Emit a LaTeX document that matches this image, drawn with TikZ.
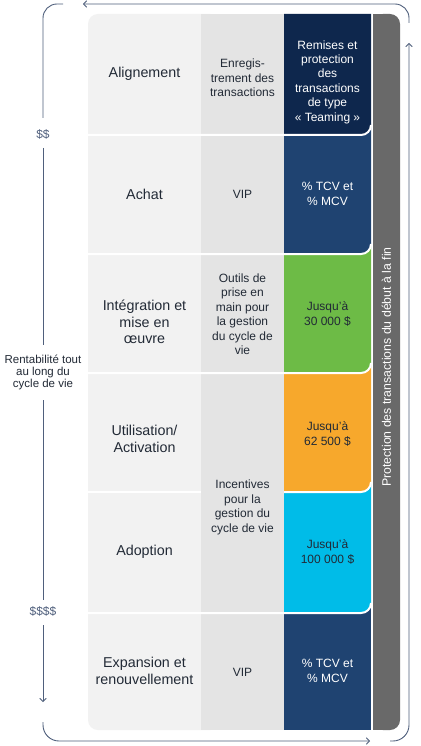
\documentclass[tikz,border=0pt]{standalone}
\usepackage{fontspec}
\setmainfont{Liberation Sans}
\usetikzlibrary{arrows.meta}
\definecolor{navyA}{HTML}{0E274D}
\definecolor{navyB}{HTML}{1F4371}
\definecolor{greenC}{HTML}{6DBB46}
\definecolor{orangeC}{HTML}{F7A82C}
\definecolor{cyanC}{HTML}{00BCE8}
\definecolor{barC}{HTML}{696969}
\definecolor{colA}{HTML}{F2F2F2}
\definecolor{colB}{HTML}{E4E4E4}
\definecolor{lineC}{HTML}{4F5F7C}
\definecolor{txtC}{HTML}{222A36}
\begin{document}
\begin{tikzpicture}[x=1pt,y=-1pt,
  conn/.style={draw=lineC, line width=0.9pt},
  arrowend/.style={-{Straight Barb[length=3pt,width=6.5pt]}},
  c1/.style={font=\fontsize{14.3}{16.5}\selectfont, text=txtC, align=center},
  c2/.style={font=\fontsize{12}{14.5}\selectfont, text=txtC, align=center},
  c3/.style={font=\fontsize{12}{14.4}\selectfont, align=center},
  side/.style={font=\fontsize{11.5}{12.2}\selectfont, text=txtC, align=center},
  money/.style={font=\fontsize{12}{14}\selectfont, text=lineC},
  sep/.style={draw=white, line width=2pt}]
\useasboundingbox (0,0) rectangle (420,746);
\fill[white] (0,0) rectangle (420,746);
% columns
\fill[colA, rounded corners=10pt] (88,14) rectangle (220,730);
\fill[colB] (201,14) rectangle (284,730);
% coloured cells, bottom first
\fill[navyB] (284,603) rectangle (371,730);
\fill[cyanC] (284,482) -- (371,482) -- (371,603) arc[start angle=0,end angle=-90,radius=10pt] -- (284,613) -- cycle;
\fill[orangeC] (284,363) -- (371,363) -- (371,482) arc[start angle=0,end angle=-90,radius=10pt] -- (284,492) -- cycle;
\fill[greenC] (284,244) -- (371,244) -- (371,363) arc[start angle=0,end angle=-90,radius=10pt] -- (284,373) -- cycle;
\fill[navyB] (284,125) -- (371,125) -- (371,244) arc[start angle=0,end angle=-90,radius=10pt] -- (284,254) -- cycle;
\fill[navyA] (284,14) -- (371,14) -- (371,125) arc[start angle=0,end angle=-90,radius=10pt] -- (284,135) -- cycle;
% separators
\draw[sep] (88,135) -- (361,135) arc[start angle=-90,end angle=0,radius=10pt];
\draw[sep] (88,254) -- (361,254) arc[start angle=-90,end angle=0,radius=10pt];
\draw[sep] (88,373) -- (361,373) arc[start angle=-90,end angle=0,radius=10pt];
\draw[sep] (88,492) -- (201,492);
\draw[sep] (284,492) -- (361,492) arc[start angle=-90,end angle=0,radius=10pt];
\draw[sep] (88,613) -- (361,613) arc[start angle=-90,end angle=0,radius=10pt];
% grey bar
\fill[barC, rounded corners=10pt] (373,14) rectangle (400,730);
\fill[barC] (373,14) rectangle (388,730);
\node[rotate=90, text=white, font=\fontsize{12.3}{14}\selectfont] (prot) at (386.5,367) {Protection des transactions du début à la fin};
% column 1
\node[c1] (a1) at (144.5,74) {Alignement};
\node[c1] (a2) at (144.5,194) {Achat};
\node[c1] (a3) at (144.5,322) {Intégration et\\mise en\\œuvre};
\node[c1] (a4) at (144.5,439) {Utilisation/\\Activation};
\node[c1] (a5) at (144.5,552) {Adoption};
\node[c1] (a6) at (144.5,671) {Expansion et\\renouvellement};
% column 2
\node[c2] (b1) at (242.5,78) {Enregis-\\trement des\\transactions};
\node[c2] (b2) at (242.5,194) {VIP};
\node[c2] (b3) at (242.5,314) {Outils de\\prise en\\main pour\\la gestion\\du cycle de\\vie};
\node[c2] (b45) at (242.5,507.5) {Incentives\\pour la\\gestion du\\cycle de vie};
\node[c2] (b6) at (242.5,672) {VIP};
% column 3
\node[c3, text=white] (d1) at (327.5,82) {Remises et\\protection\\des\\transactions\\de type\\«~Teaming~»};
\node[c3, text=white] (d2) at (327.5,194) {\%~TCV et\\\%~MCV};
\node[c3, text=txtC] (d3) at (327.5,314) {Jusqu'à\\30~000~\$};
\node[c3, text=txtC] (d4) at (327.5,434) {Jusqu'à\\62~500~\$};
\node[c3, text=txtC] (d5) at (327.5,552) {Jusqu'à\\100~000~\$};
\node[c3, text=white] (d6) at (327.5,671) {\%~TCV et\\\%~MCV};
% left labels
\node[money] (dd) at (43,134) {\$\$};
\node[side] (rent) at (43,372.5) {Rentabilité tout\\au long du\\cycle de vie};
\node[money] (dddd) at (43,611) {\$\$\$\$};
% connector coordinates
\coordinate (lt0) at (63,4);
\coordinate (lt1) at (43,118);
\coordinate (l2a) at (43,148);
\coordinate (l2b) at (43,345);
\coordinate (l3a) at (43,400);
\coordinate (l3b) at (43,600);
\coordinate (l4a) at (43,625);
\coordinate (l4b) at (43,702);
\coordinate (b0) at (43,722);
\coordinate (b1e) at (370,741);
\coordinate (r0) at (390,741);
\coordinate (r1) at (409,43);
\coordinate (t0) at (409,23);
\coordinate (t1) at (83,4);
\draw[conn, rounded corners=14pt] (lt0) -| (lt1);
\draw[conn] (l2a) -- (l2b);
\draw[conn] (l3a) -- (l3b);
\draw[conn, arrowend] (l4a) -- (l4b);
\draw[conn, arrowend, rounded corners=16pt] (b0) |- (b1e);
\draw[conn, arrowend, rounded corners=16pt] (r0) -| (r1);
\draw[conn, arrowend, rounded corners=14pt] (t0) |- (t1);
\end{tikzpicture}
\end{document}
